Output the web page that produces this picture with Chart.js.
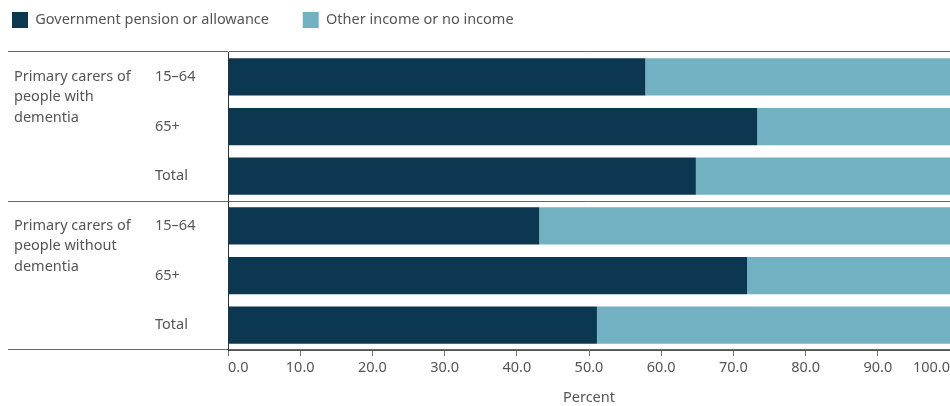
<!DOCTYPE html>
<html>
<head>
<meta charset="utf-8">
<script src="https://cdn.jsdelivr.net/npm/chart.js@4.4.1/dist/chart.umd.min.js"></script>
<style>
  html, body { margin: 0; padding: 0; background: #fff; }
  #wrap { width: 950px; height: 406px; }
</style>
</head>
<body>
<div id="wrap"><canvas id="myChart"></canvas></div>
<script>
// groups of carers, drawn as wrapped text to the left of their rows
var groupLabels = [
  ['Primary carers of', 'people with', 'dementia'],
  ['Primary carers of', 'people without', 'dementia']
];
var ageLabels = ['15–64', '65+', 'Total'];

// percent per row, in row order (with dementia 15–64, 65+, Total, then without)
var govtPension = [57.8, 73.3, 64.8, 43.1, 71.9, 51.1];
var otherIncome = [42.2, 26.7, 35.2, 56.9, 28.1, 48.9];

var xTicks = [0, 10, 20, 30, 40, 50, 60, 70, 80, 90, 100];

var rowLabels = [];
groupLabels.forEach(function () {
  ageLabels.forEach(function (a) { rowLabels.push(a); });
});

var textColor = '#555';
var fontFamily = '"Noto Sans", sans-serif';
var baseFont = { family: fontFamily, size: 14.5 };

// legend sits a bit higher than the plot top
var legendSpacer = {
  id: 'legendSpacer',
  beforeInit: function (chart) {
    var fit = chart.legend.fit;
    chart.legend.fit = function () {
      fit.call(this);
      this.height += 14;
    };
  }
};

// group names, top line level with the first row of each group
var groupText = {
  id: 'groupText',
  afterDraw: function (chart) {
    var ctx = chart.ctx;
    var y = chart.scales.y;
    ctx.save();
    ctx.font = '14.5px ' + fontFamily;
    ctx.fillStyle = textColor;
    ctx.textAlign = 'left';
    ctx.textBaseline = 'middle';
    groupLabels.forEach(function (lines, g) {
      var top = y.getPixelForValue(g * ageLabels.length);
      lines.forEach(function (line, k) {
        ctx.fillText(line, 14, top + k * 20.5);
      });
    });
    ctx.restore();
  }
};

new Chart('myChart', {
  type: 'bar',
  data: {
    labels: rowLabels,
    datasets: [{
      label: 'Government pension or allowance',
      data: govtPension,
      backgroundColor: '#0b3751',
      barPercentage: 0.75,
      categoryPercentage: 1
    }, {
      label: 'Other income or no income',
      data: otherIncome,
      backgroundColor: '#72b1c2',
      barPercentage: 0.75,
      categoryPercentage: 1
    }]
  },
  options: {
    indexAxis: 'y',
    responsive: true,
    maintainAspectRatio: false,
    animation: false,
    layout: { padding: 0 },
    plugins: {
      legend: {
        position: 'top',
        align: 'start',
        labels: {
          boxWidth: 16,
          boxHeight: 16,
          padding: 12,
          color: textColor,
          font: baseFont,
          // wider gap between the two legend entries
          generateLabels: function (chart) {
            var items = Chart.defaults.plugins.legend.labels.generateLabels(chart);
            items.forEach(function (it) { it.text = it.text + '\u2003\u2002'; });
            return items;
          }
        }
      },
      tooltip: { enabled: false }
    },
    scales: {
      x: {
        stacked: true,
        min: 0,
        max: 100,
        afterBuildTicks: function (scale) {
          scale.ticks = xTicks.map(function (v) { return { value: v }; });
        },
        grid: { drawOnChartArea: false, drawTicks: true, tickLength: 6, color: '#777' },
        border: { display: true, color: '#555' },
        ticks: {
          align: 'inner',
          padding: 0,
          color: textColor,
          font: { family: fontFamily, size: 14.5, lineHeight: '24px' },
          callback: function (v) { return Number(v).toFixed(1); }
        },
        title: {
          display: true,
          text: 'Percent',
          color: textColor,
          font: { family: fontFamily, size: 14.5, lineHeight: '16px' },
          padding: { top: 10, bottom: 0 }
        }
      },
      y: {
        stacked: true,
        afterFit: function (scale) { scale.width = 228; },
        border: { display: true, color: '#333', width: 1 },
        grid: {
          offset: true,
          drawTicks: true,
          tickLength: 220,
          color: function (c) {
            return (c.type !== 'tick' || c.index % 3 === 0) ? '#666' : 'rgba(0,0,0,0)';
          }
        },
        ticks: {
          mirror: true,
          crossAlign: 'near',
          padding: -73,
          autoSkip: false,
          color: textColor,
          font: baseFont
        }
      }
    }
  },
  plugins: [legendSpacer, groupText]
});
</script>
</body>
</html>
